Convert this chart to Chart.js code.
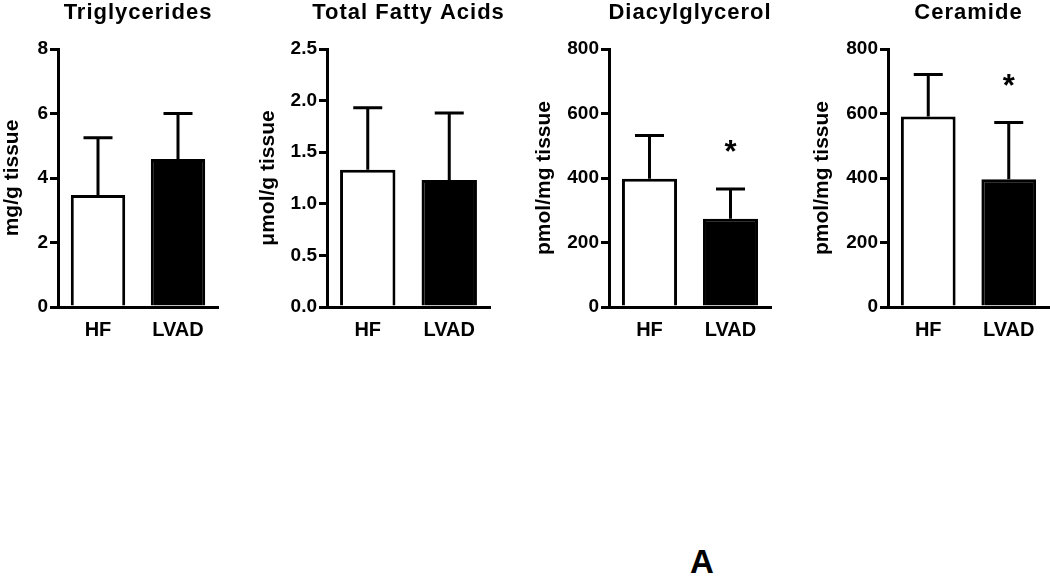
<!DOCTYPE html>
<html>
<head>
<meta charset="utf-8">
<script src="https://cdn.jsdelivr.net/npm/chart.js@4.4.1/dist/chart.umd.min.js"></script>
<style>
  html, body { margin: 0; padding: 0; background: #fff; }
  #wrap { position: relative; width: 1050px; height: 581px; overflow: hidden; }
  #wrap canvas { position: absolute; top: 0; }
  #panelLetter {
    position: absolute; left: 690px; top: 543px;
    font: bold 33px "Liberation Sans", Arial, sans-serif; color: #000;
  }
</style>
</head>
<body>
<div id="wrap">
  <canvas id="c0" width="243" height="360"></canvas>
  <canvas id="c1" width="260" height="360"></canvas>
  <canvas id="c2" width="264" height="360"></canvas>
  <canvas id="c3" width="240" height="360"></canvas>
  <div id="panelLetter">A</div>
</div>
<script>
// groups and panel texts
const groups = ['HF', 'LVAD'];
const panelTitles = ['Triglycerides', 'Total Fatty Acids', 'Diacylglycerol', 'Ceramide'];
const yTitles = ['mg/g tissue', 'μmol/g tissue', 'pmol/mg tissue', 'pmol/mg tissue'];

// means and SD (upper error bar only)
const triglycerides = [3.47, 4.59];
const triglyceridesSd = [1.78, 1.41];
const fattyAcids = [1.33, 1.23];
const fattyAcidsSd = [0.60, 0.65];
const diacylglycerol = [398, 274];
const diacylglycerolSd = [134, 92];
const ceramide = [591, 396];
const ceramideSd = [130, 176];

// * = significant vs HF
const sigDiacylglycerol = [false, true];
const sigCeramide = [false, true];
const noSig = [false, false];

// y tick labels
const ticksTg = [0, 2, 4, 6, 8];
const ticksFa = [0, 0.5, 1.0, 1.5, 2.0, 2.5];
const ticksDag = [0, 200, 400, 600, 800];
const ticksCer = [0, 200, 400, 600, 800];

const FONT = '"Liberation Sans", Arial, Helvetica, sans-serif';

const panels = [
  { values: triglycerides, sd: triglyceridesSd, sig: noSig, ticks: ticksTg, decimals: 0, left: 0, axisW: 58, right: 218 },
  { values: fattyAcids, sd: fattyAcidsSd, sig: noSig, ticks: ticksFa, decimals: 1, left: 256, axisW: 71, right: 490 },
  { values: diacylglycerol, sd: diacylglycerolSd, sig: sigDiacylglycerol, ticks: ticksDag, decimals: 0, left: 532, axisW: 77, right: 771 },
  { values: ceramide, sd: ceramideSd, sig: sigCeramide, ticks: ticksCer, decimals: 0, left: 810, axisW: 78, right: 1049 }
];

// error bars + asterisks
const errorBars = {
  id: 'errorBars',
  afterDatasetsDraw(chart, args, opts) {
    const ctx = chart.ctx;
    const meta = chart.getDatasetMeta(0);
    const y = chart.scales.y;
    ctx.save();
    ctx.strokeStyle = '#000';
    ctx.lineWidth = 3;
    meta.data.forEach((bar, i) => {
      const top = y.getPixelForValue(opts.values[i] + opts.sd[i]);
      ctx.beginPath();
      ctx.moveTo(bar.x, bar.y);
      ctx.lineTo(bar.x, top);
      ctx.moveTo(bar.x - 14.5, top);
      ctx.lineTo(bar.x + 14.5, top);
      ctx.stroke();
      if (opts.sig[i]) {
        ctx.fillStyle = '#000';
        ctx.font = 'bold 31px ' + FONT;
        ctx.textAlign = 'center';
        ctx.textBaseline = 'alphabetic';
        ctx.fillText('*', bar.x, top - 27);
      }
    });
    ctx.restore();
  }
};

// title centred over the plot area
const panelTitle = {
  id: 'panelTitle',
  afterDraw(chart, args, opts) {
    const ctx = chart.ctx;
    const a = chart.chartArea;
    ctx.save();
    ctx.fillStyle = '#000';
    ctx.font = 'bold 22px ' + FONT;
    ctx.letterSpacing = '1px';
    ctx.textAlign = 'center';
    ctx.textBaseline = 'alphabetic';
    ctx.fillText(opts.text, (a.left + a.right) / 2, 18.5);
    ctx.restore();
  }
};

panels.forEach((p, k) => {
  const canvas = document.getElementById('c' + k);
  canvas.style.left = p.left + 'px';
  const width = canvas.width;
  new Chart(canvas, {
    type: 'bar',
    data: {
      labels: groups,
      datasets: [{
        data: p.values,
        backgroundColor: ['#ffffff', '#000000'],
        borderColor: '#000',
        borderWidth: 3,
        barPercentage: 0.68,
        categoryPercentage: 1
      }]
    },
    options: {
      responsive: false,
      animation: false,
      devicePixelRatio: 1,
      layout: { padding: { top: 49, bottom: 13, left: 0, right: width - (p.right - p.left) } },
      plugins: {
        legend: { display: false },
        tooltip: { enabled: false },
        errorBars: { values: p.values, sd: p.sd, sig: p.sig },
        panelTitle: { text: panelTitles[k] }
      },
      scales: {
        x: {
          offset: true,
          grid: { display: false, drawTicks: false },
          border: { display: true, color: '#000', width: 3 },
          ticks: { color: '#000', padding: 11, font: { family: FONT, size: 20, weight: 'bold' } },
          afterFit(scale) { scale.height = 40; }
        },
        y: {
          min: 0,
          max: p.ticks[p.ticks.length - 1],
          afterBuildTicks(scale) { scale.ticks = p.ticks.map(v => ({ value: v })); },
          grid: { display: true, drawOnChartArea: false, drawTicks: true, tickLength: 8, color: '#000', lineWidth: 3 },
          border: { display: true, color: '#000', width: 3 },
          ticks: {
            color: '#000', padding: 2,
            font: { family: FONT, size: 19, weight: 'bold' },
            callback: (v) => Number(v).toFixed(p.decimals)
          },
          title: {
            display: true, text: yTitles[k], color: '#000', padding: 0,
            font: { family: FONT, size: 21, weight: 'bold' }
          },
          afterFit(scale) { scale.width = p.axisW; }
        }
      }
    },
    plugins: [errorBars, panelTitle]
  });
});
</script>
</body>
</html>
